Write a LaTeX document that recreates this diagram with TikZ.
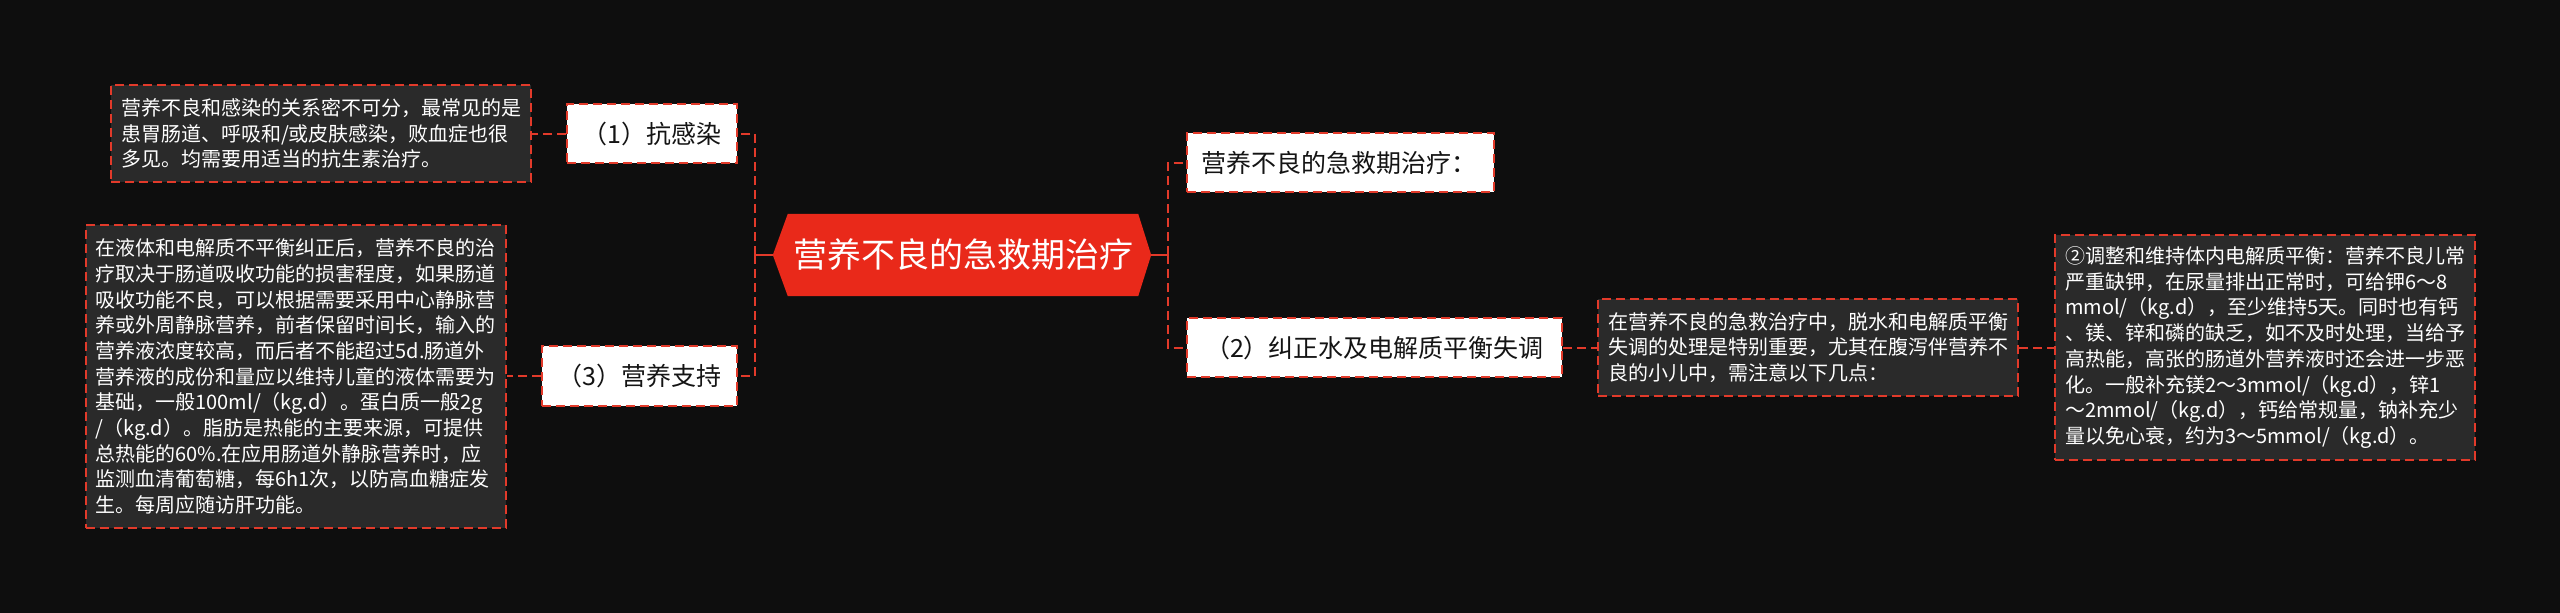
\documentclass[tikz,border=0pt]{standalone}
\usepackage{fontspec}
\setmainfont{Noto Sans CJK SC}
\usetikzlibrary{backgrounds}
\definecolor{bgc}{RGB}{14,14,14}
\definecolor{darkfill}{RGB}{42,42,42}
\definecolor{dashred}{RGB}{226,58,42}
\definecolor{rootred}{RGB}{233,41,26}
\definecolor{ink}{RGB}{20,20,20}
\begin{document}
\begin{tikzpicture}[x=1pt,y=-1pt,
  conn/.style={draw=dashred,line width=2pt,dash pattern=on 9pt off 5pt},
  solidconn/.style={draw=dashred,line width=2pt},
  darkbox/.style={draw=dashred,line width=2pt,dash pattern=on 9pt off 5pt,fill=darkfill,text=white,align=left,text width=400pt,inner xsep=10pt,inner ysep=0pt,font=\fontsize{20pt}{25.7pt}\selectfont},
  whitebox/.style={draw=dashred,line width=2pt,dash pattern=on 9pt off 5pt,fill=white,text=ink,align=center,inner sep=0pt,minimum height=59pt,font=\fontsize{25pt}{30pt}\selectfont},
  rootnode/.style={text=white,inner sep=0pt,minimum width=350pt,minimum height=82pt,font=\fontsize{34pt}{40pt}\selectfont}]
\useasboundingbox (0,0) rectangle (2560,613);

\node[darkbox,minimum height=97pt] (inf) at (321,133.5) {营养不良和感染的关系密不可分，最常见的是\\患胃肠道、呼吸和/或皮肤感染，败血症也很\\多见。均需要用适当的抗生素治疗。};
\node[whitebox,minimum width=170pt] (n1) at (652,133.5) {（1）抗感染};
\node[darkbox,minimum height=303pt] (nut) at (295.5,376.5) {在液体和电解质不平衡纠正后，营养不良的治\\疗取决于肠道吸收功能的损害程度，如果肠道\\吸收功能不良，可以根据需要采用中心静脉营\\养或外周静脉营养，前者保留时间长，输入的\\营养液浓度较高，而后者不能超过5d.肠道外\\营养液的成份和量应以维持儿童的液体需要为\\基础，一般100ml/（kg.d）。蛋白质一般2g\\/（kg.d）。脂肪是热能的主要来源，可提供\\总热能的60\%.在应用肠道外静脉营养时，应\\监测血清葡萄糖，每6h1次，以防高血糖症发\\生。每周应随访肝功能。};
\node[whitebox,minimum width=195pt,minimum height=60pt] (n3) at (639.5,376) {（3）营养支持};
\node[rootnode] (root) at (963,255) {营养不良的急救期治疗};
\node[whitebox,minimum width=307pt,text width=279pt,inner xsep=14pt,align=left] (a) at (1340.5,162.5) {营养不良的急救期治疗：};
\node[whitebox,minimum width=375pt] (b) at (1374.5,347.5) {（2）纠正水及电解质平衡失调};
\node[darkbox,minimum height=97pt] (d2) at (1808,347.5) {在营养不良的急救治疗中，脱水和电解质平衡\\失调的处理是特别重要，尤其在腹泻伴营养不\\良的小儿中，需注意以下几点：};
\node[darkbox,minimum height=225pt] (d3) at (2265,347.5) {②调整和维持体内电解质平衡：营养不良儿常\\严重缺钾，在尿量排出正常时，可给钾6～8\\mmol/（kg.d），至少维持5天。同时也有钙\\、镁、锌和磷的缺乏，如不及时处理，当给予\\高热能，高张的肠道外营养液时还会进一步恶\\化。一般补充镁2～3mmol/（kg.d），锌1\\～2mmol/（kg.d），钙给常规量，钠补充少\\量以免心衰，约为3～5mmol/（kg.d）。};

\coordinate (rr) at ([xshift=13pt]root.east);
\coordinate (rl) at ([xshift=-15pt]root.west);

\begin{pgfonlayer}{background}
\fill[bgc] (0,0) rectangle (2560,613);
\fill[rootred] (root.north west) -- (root.north east) -- (rr) -- (root.south east) -- (root.south west) -- (rl) -- cycle;
\end{pgfonlayer}

\draw[solidconn] (rr) -- ++(17,0) coordinate (rj);
\draw[conn] (rj) |- (a.west);
\draw[conn] (rj) |- (b.west);
\draw[solidconn] (rl) -- ++(-18,0) coordinate (lj);
\draw[conn] (lj) |- (n1.east);
\draw[conn] (lj) |- (n3.east);
\draw[conn] (n1.west) -- (inf.east);
\draw[conn] (n3.west) -- (n3.west -| nut.east);
\draw[conn] (b.east) -- (d2.west);
\draw[conn] (d2.east) -- (d3.west);
\end{tikzpicture}
\end{document}
